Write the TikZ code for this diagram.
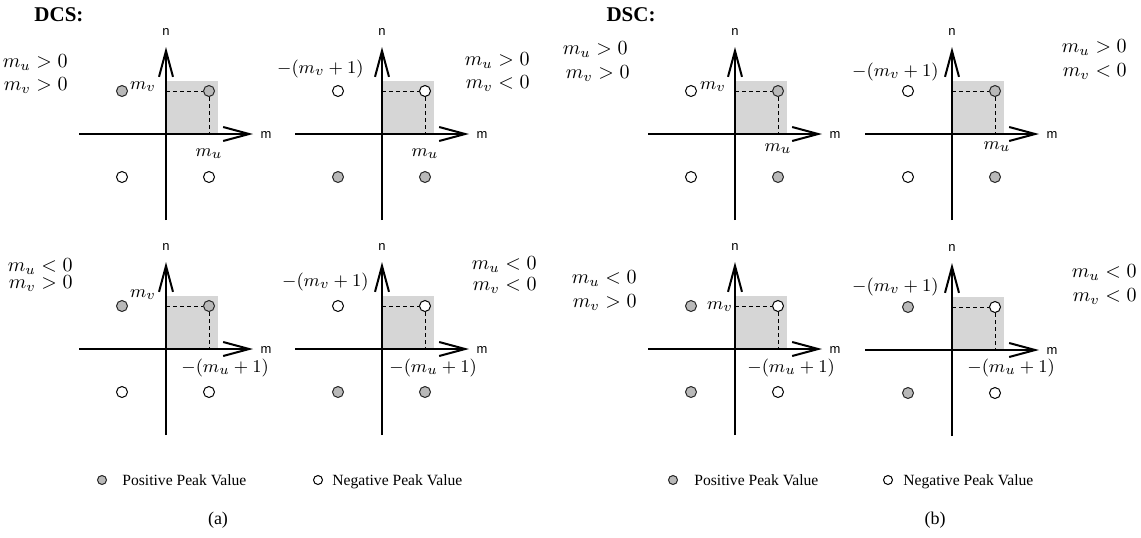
\documentclass[tikz,border=0pt]{standalone}
\usepackage{fontspec}
\usetikzlibrary{arrows.meta}
\newfontfamily\legfont{Liberation Serif}
\newfontfamily\axfont{Liberation Sans}
\tikzset{
  axisline/.style={line width=1.1pt,-{Straight Barb[length=13pt,width=7pt,line width=1pt]}},
  boxfill/.style={fill=gray!32},
  dashline/.style={line width=0.4pt,dash pattern=on 2pt off 1.5pt},
  posdot/.style={circle,draw=black!85,fill=gray!55,line width=0.5pt,inner sep=0pt,minimum size=5.5pt},
  negdot/.style={circle,draw=black,fill=white,line width=0.5pt,inner sep=0pt,minimum size=5.5pt},
  lpos/.style={posdot,minimum size=4.5pt},
  lneg/.style={negdot,minimum size=4.5pt},
  mlab/.style={inner sep=0pt,font=\fontsize{9.5}{11}\selectfont},
  cond/.style={inner sep=0pt,anchor=east,font=\fontsize{10}{12}\selectfont},
  axlab/.style={inner sep=0pt,font=\axfont\fontsize{6.5}{7.5}\selectfont},
  legtext/.style={inner sep=0pt,anchor=base west,font=\legfont\fontsize{7.8}{9}\selectfont},
  captext/.style={inner sep=0pt,font=\legfont\fontsize{9}{11}\selectfont},
  headtext/.style={inner sep=0pt,font=\legfont\bfseries\fontsize{10.5}{12}\selectfont}
}
% #1 name, #2 ox, #3 oy, #4 TL, #5 TR, #6 BL, #7 BR
\newcommand\quadplot[7]{%
  \begin{scope}[shift={(#2,#3)}]
    \fill[boxfill] (0,0) rectangle (52,-53);
    \coordinate (#1o) at (0,0);
    \coordinate (#1l) at (-87,0);
    \coordinate (#1r) at (87,0);
    \coordinate (#1t) at (0,-87);
    \coordinate (#1b) at (0,86);
    \coordinate (#1vy) at (0,-43);
    \coordinate (#1hx) at (43,0);
    \node[#4] (#1TL) at (-44,-43) {};
    \node[#5] (#1TR) at (43,-43) {};
    \node[#6] (#1BL) at (-44,43) {};
    \node[#7] (#1BR) at (43,43) {};
    \draw[dashline] (#1vy) -- (#1TR.west);
    \draw[dashline] (#1TR.south) -- (#1hx);
    \draw[axisline] (#1l) -- (#1r);
    \draw[axisline] (#1b) -- (#1t);
    \node[axlab] (#1n) at (0,-102) {n};
    \node[axlab] (#1m) at (100,1) {m};
  \end{scope}}
\begin{document}
\begin{tikzpicture}[x=0.5pt,y=-0.5pt]
\useasboundingbox (0,0) rectangle (1141,537);
% headers
\node[headtext] (hA) at (59,15) {DCS:};
\node[headtext] (hB) at (631,15) {DSC:};
% plots
\quadplot{A}{166}{134}{posdot}{posdot}{negdot}{negdot}
\quadplot{B}{382}{134}{negdot}{negdot}{posdot}{posdot}
\quadplot{C}{166}{349}{posdot}{posdot}{negdot}{negdot}
\quadplot{D}{382}{349}{negdot}{negdot}{posdot}{posdot}
\quadplot{E}{735}{134}{negdot}{posdot}{negdot}{posdot}
\quadplot{F}{952}{134}{negdot}{posdot}{negdot}{posdot}
\quadplot{G}{735}{349}{posdot}{negdot}{posdot}{negdot}
\quadplot{H}{952}{350}{posdot}{negdot}{posdot}{negdot}
% point labels
\node[mlab] (Av) at (143,87) {$m_v$};
\node[mlab] (Au) at (209,154) {$m_u$};
\node[mlab,anchor=east] (Bv) at (364,69) {$-(m_v+1)$};
\node[mlab] (Bu) at (425,154) {$m_u$};
\node[mlab] (Cv) at (143,295) {$m_v$};
\node[mlab,anchor=west] (Cu) at (181,368) {$-(m_u+1)$};
\node[mlab,anchor=east] (Dv) at (369,282) {$-(m_v+1)$};
\node[mlab,anchor=west] (Du) at (389,368) {$-(m_u+1)$};
\node[mlab] (Ev) at (713,87) {$m_v$};
\node[mlab] (Eu) at (778,149) {$m_u$};
\node[mlab,anchor=east] (Fv) at (939,72) {$-(m_v+1)$};
\node[mlab] (Fu) at (997,147) {$m_u$};
\node[mlab] (Gv) at (720,307) {$m_v$};
\node[mlab,anchor=west] (Gu) at (747,368) {$-(m_u+1)$};
\node[mlab,anchor=east] (Hv) at (939,287) {$-(m_v+1)$};
\node[mlab,anchor=west] (Hu) at (967,368) {$-(m_u+1)$};
% conditions
\node[cond] (Ac1) at (68,63) {$m_u>0$};
\node[cond] (Ac2) at (68,86) {$m_v>0$};
\node[cond] (Bc1) at (530,61) {$m_u>0$};
\node[cond] (Bc2) at (530,84) {$m_v<0$};
\node[cond] (Cc1) at (73,267) {$m_u<0$};
\node[cond] (Cc2) at (73,284) {$m_v>0$};
\node[cond] (Dc1) at (537,265) {$m_u<0$};
\node[cond] (Dc2) at (537,286) {$m_v<0$};
\node[cond] (Ec1) at (628,50) {$m_u>0$};
\node[cond] (Ec2) at (630,74) {$m_v>0$};
\node[cond] (Fc1) at (1127,48) {$m_u>0$};
\node[cond] (Fc2) at (1127,72) {$m_v<0$};
\node[cond] (Gc1) at (637,279) {$m_u<0$};
\node[cond] (Gc2) at (637,303) {$m_v>0$};
\node[cond] (Hc1) at (1137,273) {$m_u<0$};
\node[cond] (Hc2) at (1137,297) {$m_v<0$};
% legends
\node[lpos] (LAp) at (102,480) {};
\node[legtext] (LApt) at (122,485) {Positive Peak Value};
\node[lneg] (LAn) at (318,480) {};
\node[legtext] (LAnt) at (332,485) {Negative Peak Value};
\node[lpos] (LBp) at (673,480) {};
\node[legtext] (LBpt) at (694,485) {Positive Peak Value};
\node[lneg] (LBn) at (888,480) {};
\node[legtext] (LBnt) at (903,485) {Negative Peak Value};
% captions
\node[captext] (capA) at (218,520) {(a)};
\node[captext] (capB) at (935,520) {(b)};
\end{tikzpicture}
\end{document}
